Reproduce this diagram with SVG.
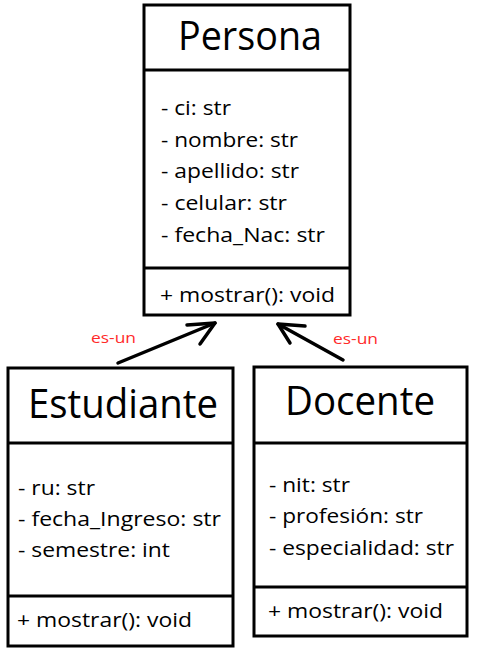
<svg xmlns="http://www.w3.org/2000/svg" width="479" height="654" viewBox="0 0 479 654">
<style>
.box{fill:#fff;stroke:#000;stroke-width:3}
.sep{stroke:#000;stroke-width:3}
.t{font-family:"Open Sans","Noto Sans",sans-serif;fill:#000}
.title{font-size:40px}
.attr{font-size:20.5px}
.lbl{font-family:"Open Sans","Noto Sans",sans-serif;font-size:15px;fill:#ff2a2a}
.con{fill:none;stroke:#000;stroke-width:3.5;stroke-linecap:round;stroke-linejoin:round}
</style>
<rect width="479" height="654" fill="#fff"/>
<g id="persona">
<rect class="box" x="144" y="5" width="206" height="310"/>
<line class="sep" x1="144" y1="70" x2="350" y2="70"/>
<line class="sep" x1="144" y1="268" x2="350" y2="268"/>
<text class="t title" x="178" y="50" textLength="144" lengthAdjust="spacingAndGlyphs">Persona</text>
<text class="t attr" x="161" y="115" textLength="70" lengthAdjust="spacingAndGlyphs">- ci: str</text>
<text class="t attr" x="161" y="147" textLength="137" lengthAdjust="spacingAndGlyphs">- nombre: str</text>
<text class="t attr" x="161" y="178" textLength="138" lengthAdjust="spacingAndGlyphs">- apellido: str</text>
<text class="t attr" x="161" y="210" textLength="126" lengthAdjust="spacingAndGlyphs">- celular: str</text>
<text class="t attr" x="161" y="242" textLength="164" lengthAdjust="spacingAndGlyphs">- fecha_Nac: str</text>
<text class="t attr" x="160" y="302" textLength="175" lengthAdjust="spacingAndGlyphs">+ mostrar(): void</text>
</g>
<g id="estudiante">
<rect class="box" x="8" y="368" width="225" height="278"/>
<line class="sep" x1="8" y1="443" x2="233" y2="443"/>
<line class="sep" x1="8" y1="596" x2="233" y2="596"/>
<text class="t title" x="28" y="418" textLength="190" lengthAdjust="spacingAndGlyphs">Estudiante</text>
<text class="t attr" x="18" y="495" textLength="77" lengthAdjust="spacingAndGlyphs">- ru: str</text>
<text class="t attr" x="18" y="526" textLength="203" lengthAdjust="spacingAndGlyphs">- fecha_Ingreso: str</text>
<text class="t attr" x="18" y="557" textLength="152" lengthAdjust="spacingAndGlyphs">- semestre: int</text>
<text class="t attr" x="17" y="627" textLength="175" lengthAdjust="spacingAndGlyphs">+ mostrar(): void</text>
</g>
<g id="docente">
<rect class="box" x="254" y="367" width="213" height="269"/>
<line class="sep" x1="254" y1="443" x2="467" y2="443"/>
<line class="sep" x1="254" y1="587" x2="467" y2="587"/>
<text class="t title" x="285" y="415" textLength="150" lengthAdjust="spacingAndGlyphs">Docente</text>
<text class="t attr" x="269" y="492" textLength="81" lengthAdjust="spacingAndGlyphs">- nit: str</text>
<text class="t attr" x="269" y="523" textLength="154" lengthAdjust="spacingAndGlyphs">- profesión: str</text>
<text class="t attr" x="269" y="555" textLength="185" lengthAdjust="spacingAndGlyphs">- especialidad: str</text>
<text class="t attr" x="268" y="618" textLength="175" lengthAdjust="spacingAndGlyphs">+ mostrar(): void</text>
</g>
<g id="connectors">
<line class="con" x1="118" y1="363" x2="215" y2="323"/>
<polyline class="con" points="187,325 215,323 200,344"/>
<line class="con" x1="343" y1="360" x2="278" y2="324"/>
<polyline class="con" points="305,326 278,324 290,343"/>
<text class="lbl" x="91" y="343" textLength="45" lengthAdjust="spacingAndGlyphs">es-un</text>
<text class="lbl" x="333" y="344" textLength="45" lengthAdjust="spacingAndGlyphs">es-un</text>
</g>
</svg>
